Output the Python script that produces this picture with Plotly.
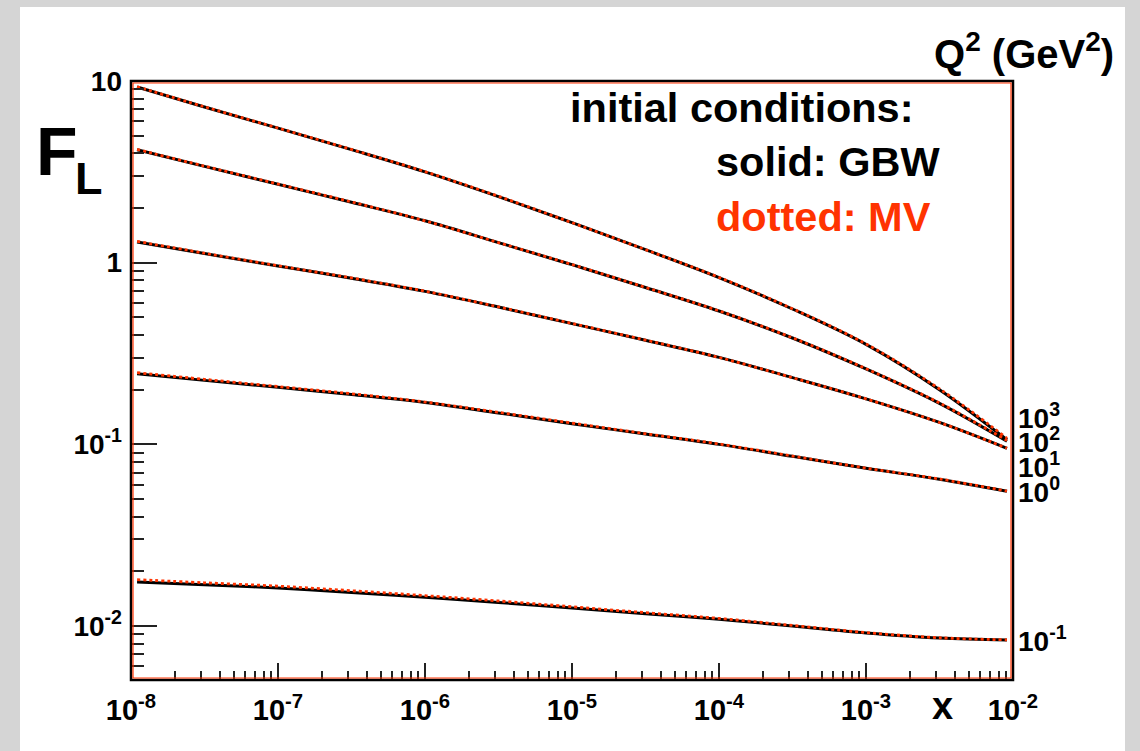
import math
import plotly.graph_objects as go

# ---------------- data ----------------
x_vals = [1.1e-8, 3.16e-8, 1e-7, 3.16e-7, 1e-6, 3.16e-6, 1e-5, 3.16e-5,
          1e-4, 3.16e-4, 1e-3, 3.16e-3, 9.1e-3]

q2_values = [1000, 100, 10, 1, 0.1]
q2_labels = ["10<sup>3</sup>", "10<sup>2</sup>", "10<sup>1</sup>", "10<sup>0</sup>", "10<sup>-1</sup>"]

fl_gbw_q2_1000 = [9.27, 7.19, 5.50, 4.19, 3.16, 2.31, 1.66, 1.18, 0.828, 0.556, 0.355, 0.200, 0.106]
fl_gbw_q2_100 = [4.18, 3.39, 2.70, 2.15, 1.70, 1.29, 0.975, 0.730, 0.542, 0.385, 0.260, 0.168, 0.104]
fl_gbw_q2_10 = [1.30, 1.122, 0.959, 0.822, 0.695, 0.570, 0.462, 0.374, 0.301, 0.233, 0.178, 0.132, 0.0951]
fl_gbw_q2_1 = [0.245, 0.225, 0.206, 0.188, 0.170, 0.149, 0.130, 0.114, 0.100, 0.0859, 0.0738, 0.0643, 0.0552]
fl_gbw_q2_01 = [0.0175, 0.01687, 0.0162, 0.01531, 0.0144, 0.01349, 0.01256, 0.01169,
                0.0109, 0.0100, 0.00916, 0.00859, 0.00837]

fl_mv_q2_1000 = [9.30, 7.21, 5.51, 4.20, 3.17, 2.32, 1.66, 1.18, 0.830, 0.558, 0.357, 0.202, 0.108]
fl_mv_q2_100 = [4.20, 3.40, 2.71, 2.16, 1.70, 1.29, 0.977, 0.731, 0.543, 0.386, 0.261, 0.169, 0.105]
fl_mv_q2_10 = [1.31, 1.128, 0.962, 0.824, 0.697, 0.571, 0.463, 0.375, 0.301, 0.233, 0.178, 0.132, 0.0953]
fl_mv_q2_1 = [0.248, 0.228, 0.208, 0.190, 0.171, 0.150, 0.131, 0.1145, 0.1005, 0.0862, 0.0740, 0.0645, 0.0553]
fl_mv_q2_01 = [0.0180, 0.01730, 0.01658, 0.01565, 0.01470, 0.01374, 0.01277, 0.01185,
               0.01102, 0.01008, 0.00921, 0.00862, 0.00840]

x_tick_vals = [1e-8, 1e-7, 1e-6, 1e-5, 1e-4, 1e-3, 1e-2]
x_tick_text = ["10<sup>-8</sup>", "10<sup>-7</sup>", "10<sup>-6</sup>", "10<sup>-5</sup>",
               "10<sup>-4</sup>", "10<sup>-3</sup>", "10<sup>-2</sup>"]
y_tick_vals = [0.01, 0.1, 1, 10]
y_tick_text = ["10<sup>-2</sup>", "10<sup>-1</sup>", "1", "10"]

gbw_series = [fl_gbw_q2_1000, fl_gbw_q2_100, fl_gbw_q2_10, fl_gbw_q2_1, fl_gbw_q2_01]
mv_series = [fl_mv_q2_1000, fl_mv_q2_100, fl_mv_q2_10, fl_mv_q2_1, fl_mv_q2_01]

# ---------------- layout geometry ----------------
W, H = 1140, 751
L, R, T, B = 131, 1013, 81, 680
PW, PH = R - L, B - T

def px(xp):
    return (xp - L) / PW

def py(yp):
    return (B - yp) / PH

# pixel rows of the Q^2 labels at the right edge
q2_label_rows = [416, 440, 465, 490, 639]

FONT = "Liberation Sans, Arial, Helvetica, sans-serif"
RED = "#ff3300"

minor_x = [m * 10.0 ** k for k in range(-8, -2) for m in range(2, 10)]
minor_y = [m * 10.0 ** k for k in range(-3, 1) for m in range(2, 10)]
minor_y = [v for v in minor_y if v > 0.00505]

fig = go.Figure()

for q2, g, m in zip(q2_values, gbw_series, mv_series):
    fig.add_trace(go.Scatter(x=x_vals, y=g, mode="lines",
                             line=dict(color="black", width=3, shape="spline", smoothing=1.0),
                             name=f"GBW Q2={q2}", showlegend=False, hoverinfo="skip"))
    fig.add_trace(go.Scatter(x=x_vals, y=m, mode="lines",
                             line=dict(color=RED, width=2.8, dash="dot", shape="spline", smoothing=1.0),
                             name=f"MV Q2={q2}", showlegend=False, hoverinfo="skip"))

# invisible trace for the minor-tick axes
fig.add_trace(go.Scatter(x=[1e-5], y=[1], xaxis="x2", yaxis="y2", mode="markers",
                         marker=dict(opacity=0), showlegend=False, hoverinfo="skip"))

fig.update_layout(
    width=W, height=H, autosize=False,
    margin=dict(l=L, r=W - R, t=T, b=H - B, pad=0),
    paper_bgcolor="#d5d5d5", plot_bgcolor="white",
    showlegend=False,
    xaxis=dict(type="log", range=[-8, -2], tickvals=x_tick_vals, ticktext=x_tick_text,
               ticks="inside", ticklen=17, tickwidth=1.5, tickcolor="#222",
               showgrid=False, zeroline=False, showline=False,
               tickfont=dict(family=FONT, size=29, color="black", weight="bold"),
               ticklabelstandoff=10),
    xaxis2=dict(type="log", range=[-8, -2], overlaying="x", anchor="y", side="bottom",
                tickvals=minor_x, ticks="inside", ticklen=9, tickwidth=1.5, tickcolor="#222",
                showticklabels=False, showgrid=False, zeroline=False, showline=False),
    yaxis=dict(type="log", range=[-2.297, 1], tickvals=y_tick_vals, ticktext=y_tick_text,
               ticks="inside", ticklen=26, tickwidth=1.5, tickcolor="#222",
               showgrid=False, zeroline=False, showline=False,
               tickfont=dict(family=FONT, size=28, color="black", weight="bold"),
               ticklabelstandoff=8),
    yaxis2=dict(type="log", range=[-2.297, 1], overlaying="y", anchor="x", side="left",
                tickvals=minor_y, ticks="inside", ticklen=13, tickwidth=1.5, tickcolor="#222",
                showticklabels=False, showgrid=False, zeroline=False, showline=False),
)

# white panel and frame
fig.add_shape(type="rect", xref="paper", yref="paper",
              x0=px(20), x1=px(1125), y0=py(760), y1=py(7),
              fillcolor="white", line=dict(width=0), layer="below")
fig.add_shape(type="rect", xref="paper", yref="paper", x0=0, x1=1, y0=0, y1=1,
              line=dict(color="black", width=2.5), layer="above")
fig.add_shape(type="rect", xref="paper", yref="paper",
              x0=px(L + 2), x1=px(R - 2), y0=py(B - 2), y1=py(T + 2),
              line=dict(color=RED, width=1.2), layer="above")

def ann(text, x, y, size, color="black", xanchor="left", yanchor="middle"):
    fig.add_annotation(text=text, xref="paper", yref="paper", x=px(x), y=py(y),
                       xanchor=xanchor, yanchor=yanchor, showarrow=False,
                       font=dict(family=FONT, size=size, color=color, weight="bold"))

ann("initial conditions:", 568, 107, 41.5)
ann("solid: GBW", 714, 161, 41.5)
ann("dotted: MV", 714, 216, 41.5, color=RED)
ann("F", 34, 151, 68)
ann("L", 73, 178, 45)
ann("Q<sup>2</sup> (GeV<sup>2</sup>)", 1116, 51, 40, xanchor="right")
ann("x", 942, 706, 38, xanchor="center")

for lab, row in zip(q2_labels, q2_label_rows):
    ann(lab, 1016, row, 28)

fig.write_html("out.html")
